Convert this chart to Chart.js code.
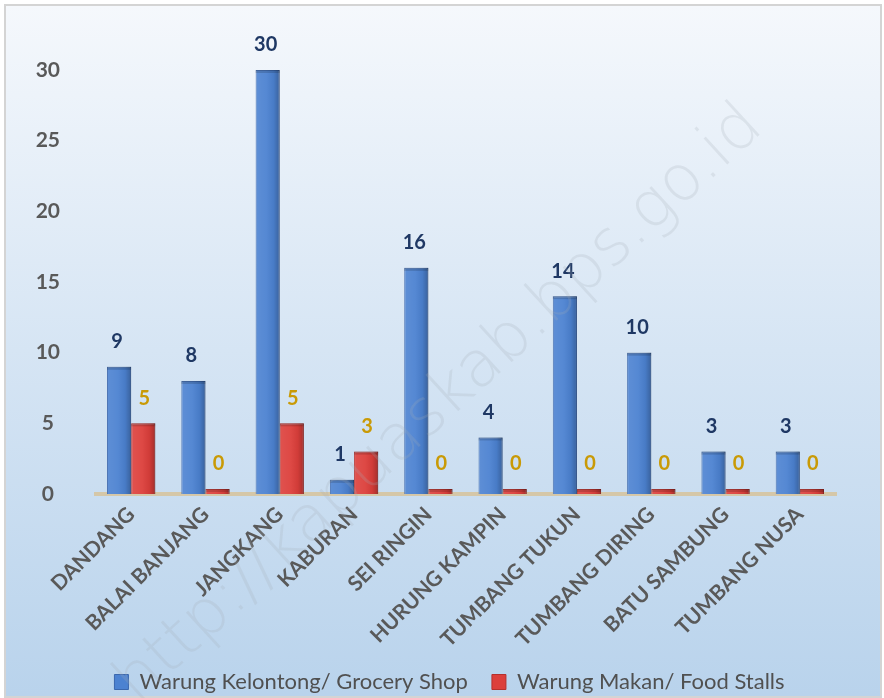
<!DOCTYPE html>
<html>
<head>
<meta charset="utf-8">
<script src="https://cdn.jsdelivr.net/npm/chart.js@4.4.1/dist/chart.umd.min.js"></script>
<style>
  html, body { margin: 0; padding: 0; background: #fff; }
  #wrap { width: 884px; height: 698px; }
</style>
</head>
<body>
<div id="wrap"><canvas id="myChart" width="884" height="698"></canvas></div>
<script>
// data
const villages = ["DANDANG", "BALAI BANJANG", "JANGKANG", "KABURAN", "SEI RINGIN",
  "HURUNG KAMPIN", "TUMBANG TUKUN", "TUMBANG DIRING", "BATU SAMBUNG", "TUMBANG NUSA"];
const grocery = [9, 8, 30, 1, 16, 4, 14, 10, 3, 3];
const foodStalls = [5, 0, 5, 3, 0, 0, 0, 0, 0, 0];
const seriesNames = ["Warung Kelontong/ Grocery Shop", "Warung Makan/ Food Stalls"];
const yTicks = [0, 5, 10, 15, 20, 25, 30];

const greyText = "#595959";
const labelColors = ["#1f3864", "#c99a06"];

// background panel + floor line
const panelPlugin = {
  id: "panel",
  afterLayout(chart) {
    // legend sits a bit right of the plot centre in the original
    chart.legend.left += 28;
    chart.legend.right += 28;
  },
  beforeDraw(chart) {
    const c = chart.ctx;
    c.save();
    c.fillStyle = "#ffffff";
    c.fillRect(0, 0, chart.width, chart.height);
    const g = c.createLinearGradient(0, 6, 0, chart.height - 4);
    g.addColorStop(0, "#f5f8fc");
    g.addColorStop(0.5, "#d6e5f4");
    g.addColorStop(1, "#b9d3ec");
    c.fillStyle = g;
    c.fillRect(6, 6, chart.width - 10, chart.height - 8);
    c.strokeStyle = "#d4d4d4";
    c.lineWidth = 2;
    c.strokeRect(5, 5, chart.width - 8, chart.height - 6);
    c.restore();
  },
  beforeDatasetsDraw(chart) {
    const c = chart.ctx, a = chart.chartArea;
    const y0 = chart.scales.y.getPixelForValue(0);
    c.save();
    c.strokeStyle = "rgba(214, 196, 160, 0.9)";
    c.lineWidth = 4;
    c.beginPath();
    c.moveTo(a.left, y0);
    c.lineTo(a.right, y0);
    c.stroke();
    c.restore();
  }
};

// shading on the bars so they look a bit like the 3d ones
const shadePlugin = {
  id: "shade",
  afterDatasetsDraw(chart) {
    const c = chart.ctx;
    c.save();
    chart.data.datasets.forEach((ds, i) => {
      chart.getDatasetMeta(i).data.forEach((bar) => {
        const top = Math.min(bar.y, bar.base), h = Math.abs(bar.base - bar.y);
        const left = bar.x - bar.width / 2;
        const g = c.createLinearGradient(left, 0, left + bar.width, 0);
        g.addColorStop(0, "rgba(255,255,255,0.10)");
        g.addColorStop(0.45, "rgba(255,255,255,0.05)");
        g.addColorStop(0.75, "rgba(0,0,0,0.05)");
        g.addColorStop(1, "rgba(0,0,0,0.25)");
        c.fillStyle = g;
        c.fillRect(left, top, bar.width, h);
        c.fillStyle = "rgba(0,0,0,0.15)";
        c.fillRect(left, top, bar.width, Math.min(3, h));
      });
    });
    c.restore();
  }
};

// value labels above bars
const valuePlugin = {
  id: "values",
  afterDatasetsDraw(chart) {
    const c = chart.ctx;
    c.save();
    c.font = "bold 20px Lato";
    c.textAlign = "center";
    c.textBaseline = "middle";
    chart.data.datasets.forEach((ds, i) => {
      c.fillStyle = labelColors[i];
      chart.getDatasetMeta(i).data.forEach((bar, j) => {
        c.fillText(String(ds.data[j]), bar.x + (i === 1 ? 1 : -2), bar.y - 25);
      });
    });
    c.restore();
  }
};

// faint site watermark
const watermarkPlugin = {
  id: "watermark",
  afterDraw(chart) {
    const c = chart.ctx;
    c.save();
    c.translate(440, 405);
    c.rotate(-42.5 * Math.PI / 180);
    c.font = "200 64px 'DejaVu Sans'";
    c.textAlign = "center";
    c.textBaseline = "middle";
    c.fillStyle = "rgba(165, 172, 180, 0.22)";
    c.fillText("http://kapuaskab.bps.go.id", 0, 0);
    c.restore();
  }
};

new Chart(document.getElementById("myChart"), {
  type: "bar",
  data: {
    labels: villages,
    datasets: [
      {
        label: seriesNames[0],
        data: grocery,
        backgroundColor: "#4c82d1",
        borderColor: "#3b67ad",
        borderWidth: 1,
        categoryPercentage: 0.65,
        barPercentage: 1
      },
      {
        label: seriesNames[1],
        data: foodStalls,
        backgroundColor: "#dc3f3b",
        borderColor: "#b5302c",
        borderWidth: 1,
        minBarLength: 5,
        categoryPercentage: 0.65,
        barPercentage: 1
      }
    ]
  },
  options: {
    responsive: false,
    animation: false,
    layout: { padding: { left: 6, right: 47, top: 70, bottom: -5 } },
    plugins: {
      tooltip: { enabled: false },
      legend: {
        position: "bottom",
        labels: {
          color: "#505050",
          font: { family: "Lato", size: 22 },
          boxWidth: 14,
          boxHeight: 15,
          padding: 24,
          useBorderRadius: false
        }
      }
    },
    scales: {
      x: {
        grid: { display: false },
        border: { display: false },
        afterFit(scale) { scale.height = 153; },
        ticks: {
          color: greyText,
          font: { family: "Lato", size: 21, weight: "bold" },
          minRotation: 45,
          maxRotation: 45,
          padding: 0,
          autoSkip: false
        }
      },
      y: {
        min: 0,
        max: 30,
        grid: { display: false },
        border: { display: false },
        afterBuildTicks(scale) {
          scale.ticks = yTicks.map((v) => ({ value: v }));
        },
        afterFit(scale) { scale.width = 88; },
        ticks: {
          color: greyText,
          font: { family: "Lato", size: 21, weight: "bold" },
          crossAlign: "center",
          padding: 26
        }
      }
    }
  },
  plugins: [panelPlugin, shadePlugin, valuePlugin, watermarkPlugin]
});
</script>
</body>
</html>
